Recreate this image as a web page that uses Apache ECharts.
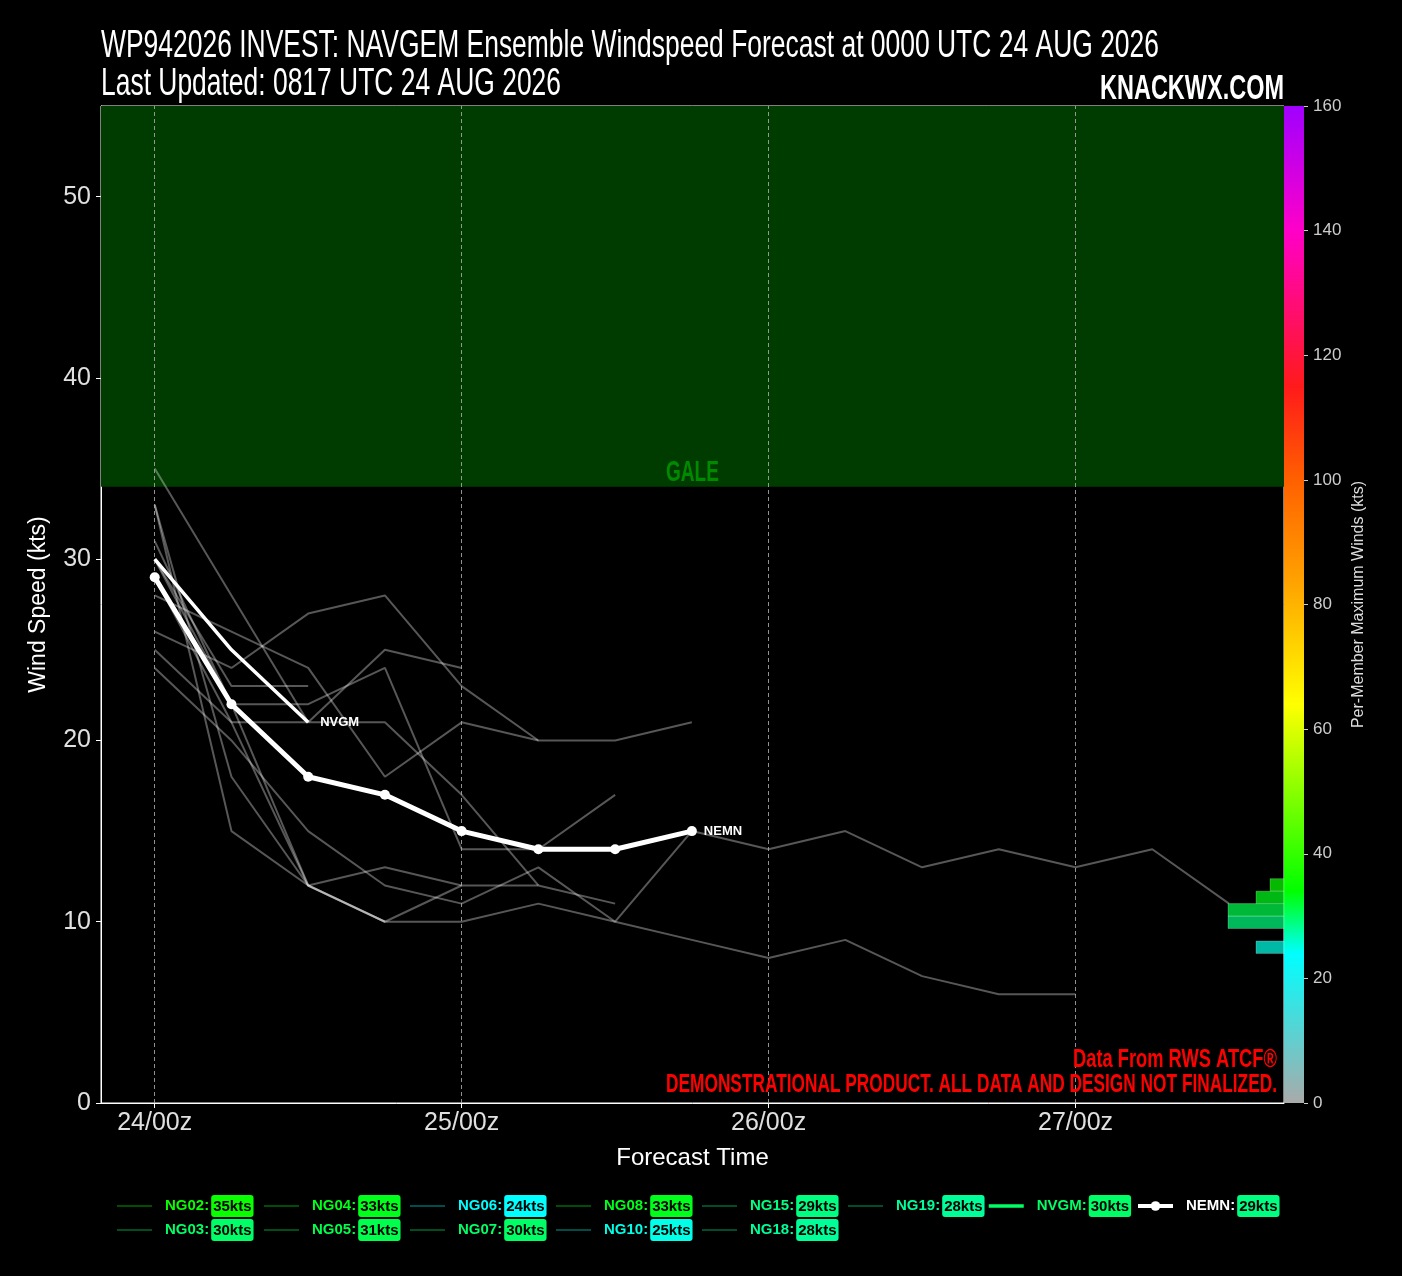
<!DOCTYPE html>
<html><head><meta charset="utf-8">
<script src="https://cdn.jsdelivr.net/npm/echarts@6/dist/echarts.min.js"></script>
<style>html,body{margin:0;padding:0;background:#000;}#c{width:1402px;height:1276px;}</style>
</head><body><div id="c"></div>
<script>
// ---------------- DATA ----------------
const hours = [0,6,12,18,24,30,36,42,48,54,60,66,72,78,84];
const NG02 = [35,28,21,25,24];
const NG03 = [30,23,23];
const NG04 = [33,15,12,10,10,11,10,9,8,9,7,6,6];
const NG05 = [31,22,12,10,12,12,11];
const NG06 = [24,20,15,12,11,13,10,15,14,15,13,14,13,14,11];
const NG07 = [30,22,22,24,14,14,17];
const NG08 = [33,18,12,13,12];
const NG10 = [25,21,21,21,17,12];
const NG15 = [29,21,12,10];
const NG18 = [28,26,24,18,21,20];
const NG19 = [26,24,27,28,23,20,20,21];
const NVGM = [30,25,21];
const NEMN = [29,22,18,17,15,14,14,15];
const memberNames = ['NG02','NG03','NG04','NG05','NG06','NG07','NG08','NG10','NG15','NG18','NG19'];
const memberData = [NG02,NG03,NG04,NG05,NG06,NG07,NG08,NG10,NG15,NG18,NG19];
const tickHours = [0,24,48,72];
const tickLabels = ['24/00z','25/00z','26/00z','27/00z'];
const galeMin = 34, yMax = 55;
const histBinWidth = 2;
const cbValues = [0,24,34,64,83,100,115,140,160];
const cbColors = ['#aaaaaa','#00ffff','#00ff00','#ffff00','#ffa500','#ff6000','#ff1a1a','#ff00c8','#a000ff'];
const titleLine1 = 'WP942026 INVEST: NAVGEM Ensemble Windspeed Forecast at 0000 UTC 24 AUG 2026';
const titleLine2 = 'Last Updated: 0817 UTC 24 AUG 2026';
const brandText = 'KNACKWX.COM';
const sourceText = 'Data From RWS ATCF®';
const disclaimerText = 'DEMONSTRATIONAL PRODUCT. ALL DATA AND DESIGN NOT FINALIZED.';

// ---------------- HELPERS ----------------
const F = "'Liberation Sans',Arial,sans-serif";
function hex2rgb(h){h=h.replace('#','');return [parseInt(h.substr(0,2),16),parseInt(h.substr(2,2),16),parseInt(h.substr(4,2),16)];}
function colorAt(v, a){
  let i=0; while(i<cbValues.length-2 && v>cbValues[i+1]) i++;
  const t=Math.max(0,Math.min(1,(v-cbValues[i])/(cbValues[i+1]-cbValues[i])));
  const c0=hex2rgb(cbColors[i]), c1=hex2rgb(cbColors[i+1]);
  const c=c0.map((x,k)=>Math.round(x+(c1[k]-x)*t));
  return a===undefined?`rgb(${c[0]},${c[1]},${c[2]})`:`rgba(${c[0]},${c[1]},${c[2]},${a})`;
}
const toPts = arr => arr.map((v,i)=>[hours[i],v]);
const maxOf = arr => Math.max(...arr);
const mctx = document.createElement('canvas').getContext('2d');
function textW(text, font){ mctx.font = font; return mctx.measureText(text).width; }
// condensed-looking text: real text, horizontally scaled to fit a target width
function fitText(text, weight, size, color, x, yMid, targetW, align){
  const font = `${weight} ${size}px ${F}`;
  const s = targetW / textW(text, font);
  return {type:'text', x:x, y:yMid, scaleX:s, scaleY:1, silent:true, z:100,
    style:{text:text, x:0, y:0, fill:color, font:font, textAlign:align||'left', textVerticalAlign:'middle'}};
}

const allNames = memberNames.concat(['NVGM','NEMN']);
const allData = memberData.concat([NVGM,NEMN]);
const maxes = {}; allNames.forEach((n,i)=>maxes[n]=maxOf(allData[i]));

// histogram of per-member maximum winds
const histMap = {};
allNames.forEach(n=>{const lo=Math.floor(maxes[n]/histBinWidth)*histBinWidth; histMap[lo]=(histMap[lo]||0)+1;});
const histData = Object.keys(histMap).map(k=>[histMap[k], +k, +k+histBinWidth]);

// ---------------- SERIES ----------------
const series = [];
series.push({type:'line', name:'_gale', data:[], z:0, silent:true,
  markArea:{silent:true, itemStyle:{color:'#003b00'}, label:{show:false},
    data:[[{yAxis:galeMin},{yAxis:yMax}]]}});
series.push({type:'line', name:'_grid', data:[], z:1, silent:true,
  markLine:{silent:true, symbol:'none', label:{show:false},
    lineStyle:{type:[4,3], color:'#aaaaaa', width:1, opacity:0.85},
    data:tickHours.map(h=>({xAxis:h}))}});
memberNames.forEach((n,i)=>{
  series.push({type:'line', name:n, data:toPts(memberData[i]), symbol:'none', z:3, silent:true,
    lineStyle:{color:'rgba(255,255,255,0.34)', width:2}, itemStyle:{color:colorAt(maxes[n],0.3)}});
});
series.push({type:'line', name:'NVGM', data:toPts(NVGM), symbol:'none', z:5, silent:true,
  lineStyle:{color:'#ffffff', width:3.5}, itemStyle:{color:'#ffffff'},
  endLabel:{show:true, formatter:'NVGM', color:'#ffffff', fontSize:13, fontWeight:'bold', fontFamily:F, distance:12}});
series.push({type:'line', name:'NEMN', data:toPts(NEMN), symbol:'circle', symbolSize:10, z:6, silent:true,
  lineStyle:{color:'#ffffff', width:5}, itemStyle:{color:'#ffffff'},
  endLabel:{show:true, formatter:'NEMN', color:'#ffffff', fontSize:13, fontWeight:'bold', fontFamily:F, distance:12}});
// histogram
series.push({type:'custom', name:'_hist', xAxisIndex:2, yAxisIndex:2, data:histData, z:4, silent:true,
  encode:{x:0, y:[1,2]},
  renderItem:(params, api)=>{
    const c=api.value(0), lo=api.value(1), hi=api.value(2);
    const a=api.coord([c,hi]), b=api.coord([0,lo]);
    return {type:'rect', shape:{x:Math.min(a[0],b[0]), y:Math.min(a[1],b[1]), width:Math.abs(a[0]-b[0]), height:Math.abs(b[1]-a[1])},
      style:{fill:colorAt((lo+hi)/2), opacity:0.72, stroke:'rgba(255,255,255,0.3)', lineWidth:1}};
  }});
// colorbar
series.push({type:'custom', name:'_cbar', xAxisIndex:1, yAxisIndex:1, data:[[0,0,160]], silent:true,
  encode:{x:0, y:[1,2]},
  renderItem:(params, api)=>{
    const a=api.coord([0,api.value(1)]), b=api.coord([1,api.value(2)]);
    return {type:'rect', shape:{x:a[0], y:b[1], width:b[0]-a[0], height:a[1]-b[1]},
      style:{fill:{type:'linear', x:0, y:1, x2:0, y2:0,
        colorStops:cbValues.map((v,i)=>({offset:v/160, color:cbColors[i]}))}}};
  }});

// ---------------- LEGEND ----------------
const legendCols = [['NG02','NG03'],['NG04','NG05'],['NG06','NG07'],['NG08','NG10'],['NG15','NG18'],['NG19'],['NVGM'],['NEMN']];
const legendX = [116,263,409,555,701,847,987,1136];
const rich = {};
allNames.forEach((n,i)=>{
  const col = colorAt(maxes[n]);
  rich['l'+i] = {color: n==='NEMN'?'#ffffff':col, fontSize:15, fontWeight:'bold', fontFamily:F, padding:[0,2,0,8]};
  rich['b'+i] = {color:'#000000', backgroundColor:col, borderRadius:3, padding:[4,2,3,2], fontSize:15, fontWeight:'bold', fontFamily:F};
});
function legendItem(n){
  const col = colorAt(maxes[n]);
  if(n==='NEMN') return {name:n, lineStyle:{color:'#ffffff', width:4}, itemStyle:{color:'#ffffff', borderWidth:0}};
  if(n==='NVGM') return {name:n, lineStyle:{color:col, width:3.5}, itemStyle:{color:'rgba(0,0,0,0)', borderWidth:0}};
  return {name:n, lineStyle:{color:colorAt(maxes[n],0.3), width:2}, itemStyle:{color:'rgba(0,0,0,0)', borderWidth:0}};
}
const legends = legendCols.map((col,ci)=>({
  orient:'vertical', left:legendX[ci], top:1195, padding:0, itemWidth:35, itemHeight:12, itemGap:2,
  selectedMode:false, data:col.map(legendItem),
  formatter:n=>{const i=allNames.indexOf(n); return `{l${i}|${n}:}{b${i}|${maxes[n]}kts}`;},
  textStyle:{rich:rich, fontFamily:F}
}));

// ---------------- OPTION ----------------
const option = {
  backgroundColor:'#000000',
  animation:false,
  textStyle:{fontFamily:F},
  legend:legends,
  grid:[
    {left:101, right:118, top:106, bottom:173, show:true, backgroundColor:'#000000', borderColor:'#ffffff', borderWidth:1, containLabel:false},
    {left:1284, width:20, top:106, bottom:173, containLabel:false},
    {left:101, right:118, top:106, bottom:173, containLabel:false}
  ],
  xAxis:[
    {type:'value', gridIndex:0, min:-4.2, max:88.3,
     name:'Forecast Time', nameLocation:'middle', nameGap:43,
     nameTextStyle:{color:'#ffffff', fontSize:24, fontFamily:F},
     axisLine:{show:true, onZero:false, lineStyle:{color:'#ffffff'}},
     axisTick:{show:true, customValues:tickHours, length:5, lineStyle:{color:'#ffffff'}},
     axisLabel:{show:true, customValues:tickHours, color:'#e0e0e0', fontSize:25, fontFamily:F, margin:8,
       formatter:v=>tickLabels[tickHours.indexOf(v)]||''},
     splitLine:{show:false}},
    {type:'value', gridIndex:1, min:0, max:1, show:false},
    {type:'value', gridIndex:2, min:0, max:84.5, inverse:true, show:false}
  ],
  yAxis:[
    {type:'value', gridIndex:0, min:0, max:yMax, interval:10,
     name:'Wind Speed (kts)', nameLocation:'middle', nameGap:51, nameRotate:90,
     nameTextStyle:{color:'#ffffff', fontSize:23, fontFamily:F},
     axisLine:{show:true, onZero:false, lineStyle:{color:'#ffffff'}},
     axisTick:{show:true, length:5, lineStyle:{color:'#ffffff'}},
     axisLabel:{color:'#e0e0e0', fontSize:25, fontFamily:F, margin:10, showMaxLabel:false},
     splitLine:{show:false}},
    {type:'value', gridIndex:1, min:0, max:160, interval:20, position:'right',
     name:'Per-Member Maximum Winds (kts)', nameLocation:'middle', nameGap:47, nameRotate:90,
     nameTextStyle:{color:'#dddddd', fontSize:16, fontFamily:F},
     axisLine:{show:false, onZero:false},
     axisTick:{show:true, length:4, lineStyle:{color:'#cccccc'}},
     axisLabel:{color:'#cccccc', fontSize:17, fontFamily:F, margin:9},
     splitLine:{show:false}},
    {type:'value', gridIndex:2, min:0, max:160, show:false}
  ],
  series:series
};
const chart = echarts.init(document.getElementById('c'), null, {renderer:'canvas'});
chart.setOption(option);

// text placed relative to the drawn grid
const galePt = chart.convertToPixel({xAxisIndex:0, yAxisIndex:0}, [(-4.2+88.3)/2, galeMin]);
chart.setOption({graphic:[
  fitText(titleLine1, 'normal', 38, '#ffffff', 101, 47, 1058, 'left'),
  fitText(titleLine2, 'normal', 38, '#ffffff', 101, 85, 460, 'left'),
  fitText(brandText, 'bold', 35, '#ffffff', 1284, 89, 184, 'right'),
  fitText(sourceText, 'bold', 25, '#ff0000', 1277, 1060, 204, 'right'),
  fitText(disclaimerText, 'bold', 25, '#ff0000', 1277, 1085, 611, 'right'),
  fitText('GALE', 'bold', 30, '#008a00', galePt[0], galePt[1]-14, 53, 'center')
]});
</script></body></html>
